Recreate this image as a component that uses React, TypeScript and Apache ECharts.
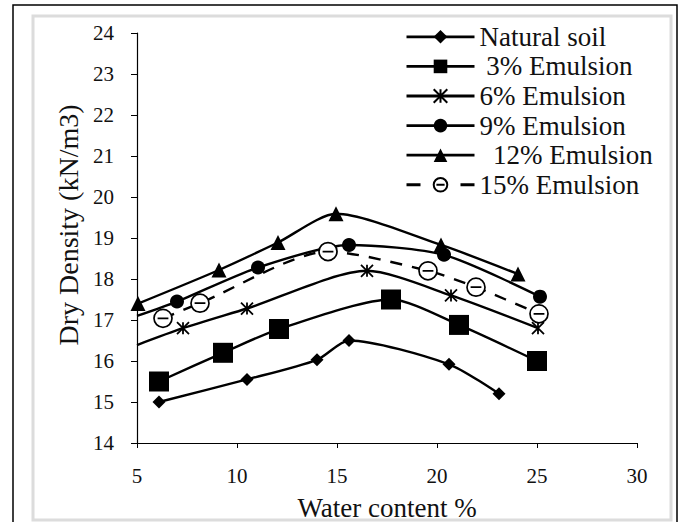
import React, { useEffect, useRef } from "react";
import * as echarts from "echarts";

// ---- data ----
const seriesNames = [
  "Natural soil",
  " 3% Emulsion",
  "6% Emulsion",
  "9% Emulsion",
  "  12% Emulsion",
  "15% Emulsion",
];

const naturalX = [6.1, 10.5, 14.0, 15.6, 20.6, 23.1];
const naturalY = [15.0, 15.55, 16.03, 16.5, 15.92, 15.2];

const em3X = [6.1, 9.3, 12.1, 17.7, 21.1, 25.0];
const em3Y = [15.5, 16.2, 16.78, 17.5, 16.88, 16.0];

const em6X = [5.0, 7.3, 10.5, 16.5, 20.7, 25.05];
const em6Y = [16.39, 16.8, 17.28, 18.2, 17.6, 16.8];

const em9X = [5.0, 7.0, 11.05, 15.6, 20.35, 25.15];
const em9Y = [17.1, 17.45, 18.28, 18.83, 18.59, 17.57];

const em12X = [5.05, 9.1, 12.05, 14.95, 20.2, 24.05];
const em12Y = [17.4, 18.22, 18.89, 19.59, 18.83, 18.12];

const em15X = [6.3, 8.15, 14.55, 19.55, 21.95, 25.1];
const em15Y = [17.04, 17.41, 18.67, 18.2, 17.8, 17.15];

const xTicks = [5, 10, 15, 20, 25, 30];
const yTicks = [14, 15, 16, 17, 18, 19, 20, 21, 22, 23, 24];

const FONT = "'Liberation Serif', 'Times New Roman', serif";
const ASTERISK = "path://M0,0L10,10M10,0L0,10M5,0L5,10";
const THETA = "path://M0,10A10,10,0,1,1,20,10A10,10,0,1,1,0,10ZM4,10L16,10";

const styles = [
  { symbol: "diamond", size: 13, dashed: false, fill: "#000", border: 0, axisStart: false },
  { symbol: "rect", size: 20, dashed: false, fill: "#000", border: 0, axisStart: false },
  { symbol: ASTERISK, size: 12, dashed: false, fill: "#000", border: 1.8, axisStart: true },
  { symbol: "circle", size: 14, dashed: false, fill: "#000", border: 0, axisStart: true },
  { symbol: "triangle", size: 15, dashed: false, fill: "#000", border: 0, axisStart: false },
  { symbol: THETA, size: 18, dashed: true, fill: "#fff", border: 1.7, axisStart: false },
];

const xs = [naturalX, em3X, em6X, em9X, em12X, em15X];
const ys = [naturalY, em3Y, em6Y, em9Y, em12Y, em15Y];

export default function App() {
  const ref = useRef<HTMLDivElement>(null);

  useEffect(() => {
    if (!ref.current) return;
    const chart = echarts.init(ref.current, undefined, { renderer: "svg" });

    const series = seriesNames.map((name, i) => {
      const st = styles[i];
      const data = xs[i].map((x, j) => {
        const item: any = { value: [x, ys[i][j]] };
        if (st.axisStart && j === 0) item.symbol = "none";
        return item;
      });
      return {
        name,
        type: "line",
        data,
        smooth: 0.25,
        symbol: st.symbol,
        symbolSize: st.size,
        showAllSymbol: true,
        lineStyle: {
          color: "#000",
          width: 2.4,
          type: st.dashed ? [12, 10] : "solid",
        },
        itemStyle: {
          color: st.fill,
          borderColor: "#000",
          borderWidth: st.border,
        },
        z: 3,
      };
    });

    const legendData = seriesNames.map((name, i) =>
      styles[i].dashed
        ? { name, lineStyle: { type: [14, 40], width: 3 } }
        : { name, lineStyle: { width: 2.8 } }
    );

    chart.setOption({
      animation: false,
      backgroundColor: "#fff",
      textStyle: { fontFamily: FONT },
      graphic: [
        {
          type: "rect",
          shape: { x: 13, y: 5, width: 664, height: 530 },
          style: { fill: "none", stroke: "#000", lineWidth: 1.5 },
          z: -10,
          silent: true,
        },
        {
          type: "rect",
          shape: { x: 33, y: 16, width: 638, height: 504 },
          style: { fill: "none", stroke: "#dcdcdc", lineWidth: 3 },
          z: -10,
          silent: true,
        },
      ],
      grid: {
        left: 137,
        right: 43,
        top: 33,
        bottom: 79,
        containLabel: false,
        outerBoundsMode: "none",
      },
      legend: {
        orient: "vertical",
        left: 405,
        top: 22,
        itemWidth: 68,
        itemHeight: 17,
        itemGap: 0,
        padding: 0,
        data: legendData,
        textStyle: {
          fontFamily: FONT,
          fontSize: 27,
          color: "#111",
          lineHeight: 29.6,
        },
      },
      xAxis: {
        type: "value",
        min: 5,
        max: 30,
        interval: 5,
        name: "Water content %",
        nameLocation: "middle",
        nameGap: 51,
        nameTextStyle: { fontFamily: FONT, fontSize: 27, color: "#111" },
        axisLine: { show: true, onZero: false, lineStyle: { color: "#000", width: 1.2 } },
        axisTick: { show: true, length: 5, lineStyle: { color: "#000" } },
        axisLabel: {
          fontFamily: FONT,
          fontSize: 21,
          color: "#111",
          margin: 22,
          formatter: (v: number) => (xTicks.includes(v) ? String(v) : ""),
        },
        splitLine: { show: false },
      },
      yAxis: {
        type: "value",
        min: 14,
        max: 24,
        interval: 1,
        name: "Dry Density (kN/m3)",
        nameLocation: "middle",
        nameGap: 53,
        nameTextStyle: {
          fontFamily: FONT,
          fontSize: 28,
          color: "#111",
          padding: [0, 0, 0, 26],
        },
        axisLine: { show: true, onZero: false, lineStyle: { color: "#000", width: 1.2 } },
        axisTick: { show: true, length: 6, lineStyle: { color: "#000" } },
        axisLabel: {
          fontFamily: FONT,
          fontSize: 21,
          color: "#111",
          margin: 23,
          formatter: (v: number) => (yTicks.includes(v) ? String(v) : ""),
        },
        splitLine: { show: false },
      },
      series,
    });

    return () => chart.dispose();
  }, []);

  return (
    <div
      ref={ref}
      style={{ position: "absolute", left: 0, top: 0, width: 680, height: 522 }}
    />
  );
}
